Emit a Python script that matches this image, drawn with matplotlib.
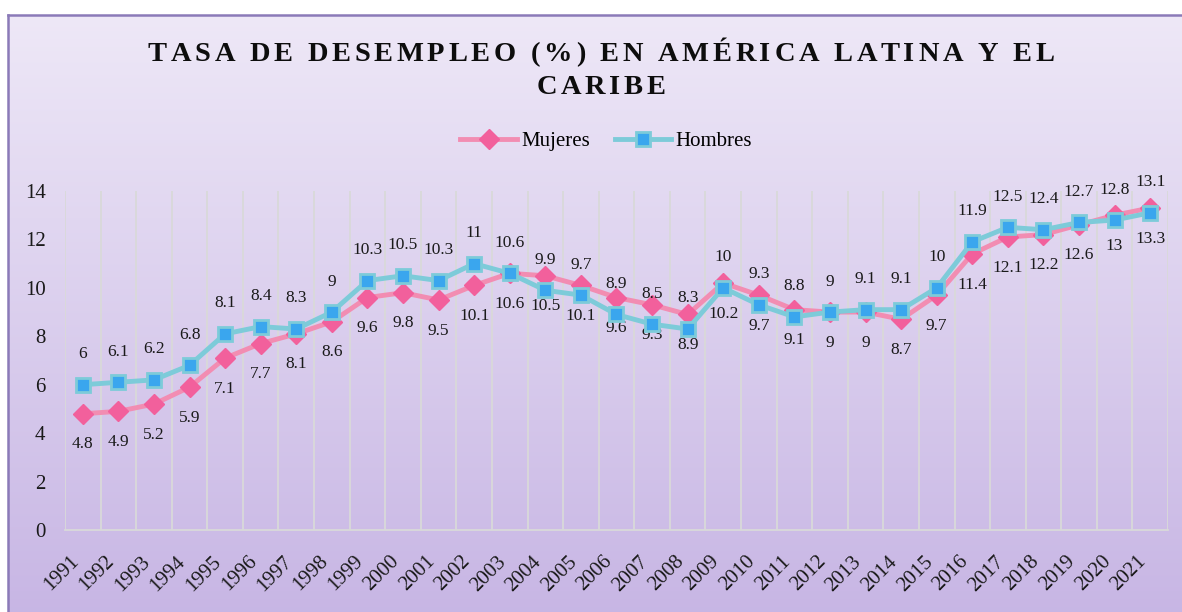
import numpy as np
import matplotlib
matplotlib.use("Agg")
from matplotlib import pyplot as plt
from matplotlib.font_manager import FontProperties, findfont, get_font
from matplotlib.colors import LinearSegmentedColormap

plt.rcParams['font.family'] = ['Liberation Serif', 'DejaVu Serif']

years = [str(y) for y in range(1991, 2022)]
mujeres = [4.8, 4.9, 5.2, 5.9, 7.1, 7.7, 8.1, 8.6, 9.6, 9.8, 9.5, 10.1, 10.6, 10.5, 10.1, 9.6,
           9.3, 8.9, 10.2, 9.7, 9.1, 9, 9, 8.7, 9.7, 11.4, 12.1, 12.2, 12.6, 13, 13.3]
hombres = [6, 6.1, 6.2, 6.8, 8.1, 8.4, 8.3, 9, 10.3, 10.5, 10.3, 11, 10.6, 9.9, 9.7, 8.9,
           8.5, 8.3, 10, 9.3, 8.8, 9, 9.1, 9.1, 10, 11.9, 12.5, 12.4, 12.7, 12.8, 13.1]
title_lines = ["TASA DE DESEMPLEO (%) EN AMÉRICA LATINA Y EL", "CARIBE"]

W, H = 1182, 612
fig = plt.figure(figsize=(W / 100, H / 100), dpi=100)

# gradient background of the chart box (runs off the right and bottom edges)
bg = fig.add_axes([8 / W, -0.02, 1.02 - 8 / W, 1.02 - 15 / H])
grad = np.linspace(0, 1, 256).reshape(-1, 1)
cmap = LinearSegmentedColormap.from_list('bg', ['#EEE8F7', '#C7B5E4'])
bg.imshow(grad, aspect='auto', cmap=cmap, extent=[0, 1, 0, 1], origin='upper')
bg.set_xticks([])
bg.set_yticks([])
for s in bg.spines.values():
    s.set_color('#8B7AB8')
    s.set_linewidth(1.8)

ax = fig.add_axes([65 / W, 1 - 530 / H, (1168 - 65) / W, (530 - 191) / H])
ax.patch.set_alpha(0)
x = np.arange(len(years))
ax.set_xlim(-0.5, len(years) - 0.5)
ax.set_ylim(0, 14)
ax.set_yticks(range(0, 15, 2))
ax.set_xticks(x)
ax.set_xticklabels(years, rotation=45, ha='right', fontsize=15)
ax.set_xticks(np.arange(-0.5, len(years), 1), minor=True)
ax.grid(which='minor', axis='x', color='#D9D9D9', lw=1.3)
ax.tick_params(which='both', length=0)
ax.tick_params(axis='y', labelsize=15, pad=14, labelcolor='#1a1a1a')
ax.tick_params(axis='x', pad=16, labelcolor='#1a1a1a')
for side in ['left', 'top', 'right']:
    ax.spines[side].set_visible(False)
ax.spines['bottom'].set_color('#D9D9D9')
ax.spines['bottom'].set_linewidth(1.3)

ax.plot(x, mujeres, color='#F28DB2', lw=3.5, marker='D', ms=10, mfc='#F2609C', mec='#F2609C',
        label='Mujeres', zorder=3)
ax.plot(x, hombres, color='#7DCBD9', lw=3.5, marker='s', ms=10.5, mfc='#3AA6EE', mec='#7DCBD9',
        mew=2, label='Hombres', zorder=4)

for i in x:
    ax.annotate(f'{hombres[i]:g}', (i, hombres[i]), xytext=(0, 22), textcoords='offset points',
                ha='center', va='center', fontsize=12.5, color='#1a1a1a')
    ax.annotate(f'{mujeres[i]:g}', (i, mujeres[i]), xytext=(0, -22), textcoords='offset points',
                ha='center', va='center', fontsize=12.5, color='#1a1a1a')

fig.legend(loc='center', bbox_to_anchor=(606 / W, 1 - 141 / H), ncol=2, frameon=False,
           fontsize=15, handlelength=2.7, handletextpad=0.2, columnspacing=1.2)


# title with letter spacing, one character at a time
def spaced_text(s, xc, ybase, size, spacing):
    prop = FontProperties(family='Liberation Serif', weight='bold', size=size)
    font = get_font(findfont(prop))
    font.set_size(size, fig.dpi)
    adv = [font.load_char(ord(ch)).linearHoriAdvance / 65536 for ch in s]
    total = sum(adv) + spacing * (len(s) - 1)
    xp = xc - total / 2
    for ch, a in zip(s, adv):
        fig.text(xp / W, ybase / H, ch, fontproperties=prop, ha='left', va='baseline', color='#0d0d0d')
        xp += a + spacing


spaced_text(title_lines[0], 601, H - 61, 20.5, 3.7)
spaced_text(title_lines[1], 601, H - 94, 20.5, 3.7)

fig.savefig('out.png', dpi=100)
